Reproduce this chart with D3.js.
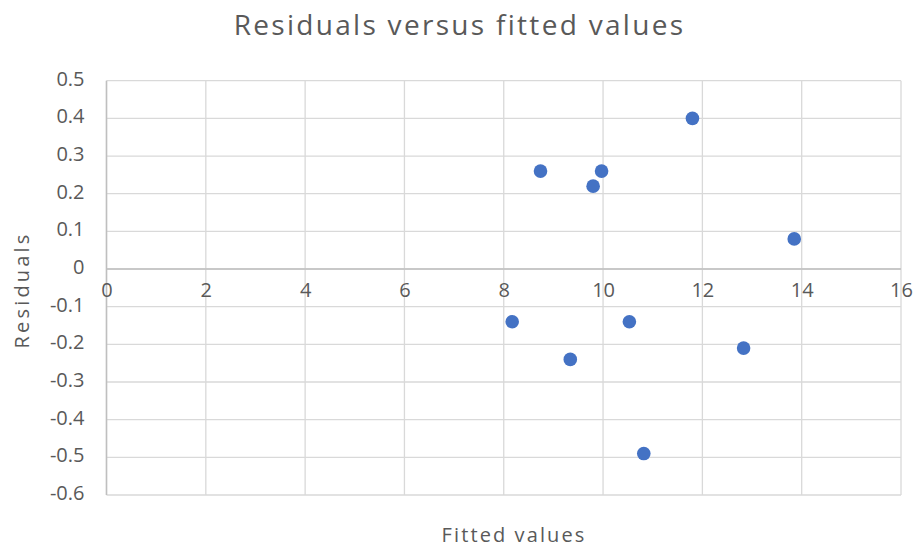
<!DOCTYPE html>
<html>
<head>
<meta charset="utf-8">
<script src="https://cdn.jsdelivr.net/npm/d3@7"></script>
<style>
  body { margin: 0; background: #fff; }
  text { font-family: "Open Sans", sans-serif; fill: #595959; }
</style>
</head>
<body>
<svg></svg>
<script>
// fitted values and their residuals
const fitted = [8.74, 9.97, 9.80, 11.80, 8.17, 9.34, 10.53, 12.83, 10.82, 13.85];
const residuals = [0.26, 0.26, 0.22, 0.40, -0.14, -0.24, -0.14, -0.21, -0.49, 0.08];
const xTicks = [0, 2, 4, 6, 8, 10, 12, 14, 16];
const yTicks = [0.5, 0.4, 0.3, 0.2, 0.1, 0, -0.1, -0.2, -0.3, -0.4, -0.5, -0.6];

const data = fitted.map((f, i) => ({ x: f, y: residuals[i] }));

const svgWidth = 917;
const svgHeight = 547;
const margin = { top: 80.7, right: 16, bottom: 52, left: 106.5 };
const width = svgWidth - margin.left - margin.right;
const height = svgHeight - margin.top - margin.bottom;

const svg = d3.select('svg')
    .attr('width', svgWidth)
    .attr('height', svgHeight);

const g = svg.append('g')
    .attr('transform', `translate(${margin.left}, ${margin.top})`);

const xScale = d3.scaleLinear().domain([0, 16]).range([0, width]);
const yScale = d3.scaleLinear().domain([-0.6, 0.5]).range([height, 0]);

// horizontal gridlines
g.append('g')
    .selectAll('line')
    .data(yTicks)
    .enter().append('line')
    .attr('x1', 0)
    .attr('x2', width)
    .attr('y1', d => yScale(d))
    .attr('y2', d => yScale(d))
    .attr('stroke', '#d9d9d9')
    .attr('stroke-width', 1.3);

// vertical gridlines
g.append('g')
    .selectAll('line')
    .data(xTicks)
    .enter().append('line')
    .attr('x1', d => xScale(d))
    .attr('x2', d => xScale(d))
    .attr('y1', 0)
    .attr('y2', height)
    .attr('stroke', '#d9d9d9')
    .attr('stroke-width', 1.3);

// axis lines through zero
g.append('line')
    .attr('x1', 0).attr('x2', width)
    .attr('y1', yScale(0)).attr('y2', yScale(0))
    .attr('stroke', '#bfbfbf')
    .attr('stroke-width', 1.5);
g.append('line')
    .attr('x1', xScale(0)).attr('x2', xScale(0))
    .attr('y1', 0).attr('y2', height)
    .attr('stroke', '#bfbfbf')
    .attr('stroke-width', 1.5);

// x tick labels sit on the zero line
const xAxis = g.append('g')
    .attr('transform', `translate(0, ${yScale(0)})`)
    .call(d3.axisBottom(xScale).tickValues(xTicks).tickSize(0).tickPadding(14).tickFormat(d3.format('d')));
xAxis.select('.domain').remove();
xAxis.selectAll('text')
    .attr('font-size', '20px')
    .attr('font-family', '"Open Sans", sans-serif')
    .attr('fill', '#595959');

// excel style labels: plain hyphen, "0" without decimals
const yFormat = d => d === 0 ? '0' : d3.format('.1f')(d).replace('\u2212', '-');

const yAxis = g.append('g')
    .call(d3.axisLeft(yScale).tickValues(yTicks).tickSize(0).tickPadding(22).tickFormat(yFormat));
yAxis.select('.domain').remove();
yAxis.selectAll('text')
    .attr('font-size', '20px')
    .attr('font-family', '"Open Sans", sans-serif')
    .attr('fill', '#595959')
    .attr('dy', '0.22em');

g.selectAll('.dot')
    .data(data)
    .enter().append('circle')
    .attr('class', 'dot')
    .attr('cx', d => xScale(d.x))
    .attr('cy', d => yScale(d.y))
    .attr('r', 6.8)
    .attr('fill', '#4472c4');

svg.append('text')
    .attr('x', svgWidth / 2 + 1)
    .attr('y', 35)
    .attr('text-anchor', 'middle')
    .attr('font-size', '28px')
    .attr('letter-spacing', '2.3px')
    .text('Residuals versus fitted values');

svg.append('text')
    .attr('x', 514)
    .attr('y', 542)
    .attr('text-anchor', 'middle')
    .attr('font-size', '20px')
    .attr('letter-spacing', '2.1px')
    .text('Fitted values');

svg.append('text')
    .attr('transform', 'rotate(-90)')
    .attr('x', -290)
    .attr('y', 29)
    .attr('text-anchor', 'middle')
    .attr('font-size', '20px')
    .attr('letter-spacing', '3.2px')
    .text('Residuals');
</script>
</body>
</html>
